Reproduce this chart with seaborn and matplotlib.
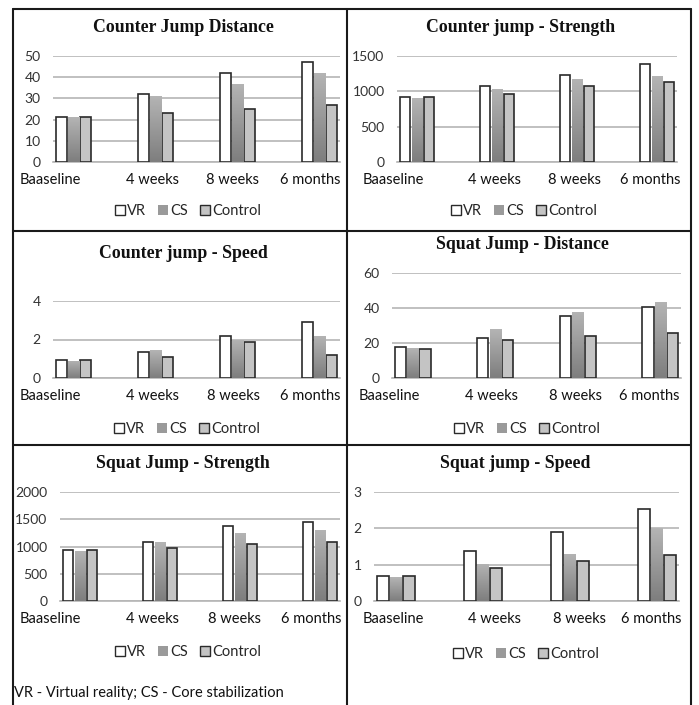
import numpy as np
import pandas as pd
import matplotlib
matplotlib.use("Agg")
import matplotlib.pyplot as plt
import seaborn as sns
from matplotlib.patches import Patch
from matplotlib.lines import Line2D
from matplotlib.colors import LinearSegmentedColormap
import matplotlib.transforms as mtransforms

# ---------------- data ----------------
timepoints = ["Baaseline", "4 weeks", "8 weeks", "6 months"]
groups = ["VR", "CS", "Control"]

titles = ["Counter Jump Distance", "Counter jump - Strength", "Counter jump - Speed",
          "Squat Jump - Distance", "Squat Jump - Strength", "Squat jump - Speed"]

cj_distance_vr = [21, 32, 42, 47]
cj_distance_cs = [21, 31, 37, 42]
cj_distance_ctrl = [21, 23, 25, 27]

cj_strength_vr = [920, 1070, 1230, 1390]
cj_strength_cs = [900, 1040, 1180, 1210]
cj_strength_ctrl = [920, 960, 1080, 1130]

cj_speed_vr = [0.95, 1.35, 2.2, 2.9]
cj_speed_cs = [0.9, 1.45, 2.0, 2.2]
cj_speed_ctrl = [0.95, 1.1, 1.85, 1.2]

sj_distance_vr = [17.5, 23, 35.5, 40.5]
sj_distance_cs = [17, 28, 38, 43.5]
sj_distance_ctrl = [16.5, 21.5, 24, 26]

sj_strength_vr = [930, 1090, 1370, 1450]
sj_strength_cs = [920, 1080, 1250, 1310]
sj_strength_ctrl = [930, 970, 1050, 1090]

sj_speed_vr = [0.7, 1.37, 1.9, 2.52]
sj_speed_cs = [0.65, 1.03, 1.3, 2.0]
sj_speed_ctrl = [0.68, 0.9, 1.1, 1.27]

yticks_list = [[0, 10, 20, 30, 40, 50], [0, 500, 1000, 1500], [0, 2, 4],
               [0, 20, 40, 60], [0, 500, 1000, 1500, 2000], [0, 1, 2, 3]]

footnote = "VR - Virtual reality; CS - Core stabilization"

series = [
    (cj_distance_vr, cj_distance_cs, cj_distance_ctrl),
    (cj_strength_vr, cj_strength_cs, cj_strength_ctrl),
    (cj_speed_vr, cj_speed_cs, cj_speed_ctrl),
    (sj_distance_vr, sj_distance_cs, sj_distance_ctrl),
    (sj_strength_vr, sj_strength_cs, sj_strength_ctrl),
    (sj_speed_vr, sj_speed_cs, sj_speed_ctrl),
]

# ---------------- layout (pixels) ----------------
W, H = 699, 705
# (left, right, top, bottom) of axes, title center (x, y), legend center (x, y)
layout = [
    ((53, 340, 56, 162), (183, 27), (188, 211)),
    ((397, 677, 56, 162), (521, 27), (524, 211)),
    ((53, 340, 301, 378), (183, 253), (187, 429)),
    ((392, 681, 273, 378), (522, 245), (527, 429)),
    ((60, 340, 492, 601), (183, 464), (188, 652)),
    ((374, 679, 492, 601), (515, 464), (526, 654)),
]
label_offsets_px = [
    [-23, -3, -5, -9],
    [-24, -2, -3, -7],
    [-23, -3, -4, -9],
    [-23, -4, -2, -11],
    [-30, -8, -6, -9],
    [-2, 12, 9, -6],
]

sns.set_style("white")
plt.rcParams["font.family"] = ["Lato", "DejaVu Sans"]

fig = plt.figure(figsize=(W / 100, H / 100), dpi=100)
fig.patch.set_facecolor("white")

palette = {"VR": "#ffffff", "CS": "#9a9a9a", "Control": "#c4c4c4"}
cs_cmap = LinearSegmentedColormap.from_list("csgrad", ["#7e7e7e", "#b4b4b4"])
edge = "#2a2a2a"
grid_c = "#b5b5b5"

for i in range(6):
    (l, r, t, b), (tx, ty), (lx, ly) = layout[i]
    ax = fig.add_axes([l / W, 1 - b / H, (r - l) / W, (b - t) / H])
    vr, cs, ctrl = series[i]
    df = pd.DataFrame({
        "time": timepoints * 3,
        "group": ["VR"] * 4 + ["CS"] * 4 + ["Control"] * 4,
        "value": list(vr) + list(cs) + list(ctrl),
    })
    sns.barplot(data=df, x="time", y="value", hue="group", order=timepoints,
                hue_order=groups, palette=palette, saturation=1, width=0.45,
                gap=0.1, errorbar=None, legend=False, ax=ax, zorder=3)
    for bar in ax.containers[0]:
        bar.set_edgecolor(edge); bar.set_linewidth(1.2)
    for bar in ax.containers[2]:
        bar.set_edgecolor(edge); bar.set_linewidth(1.2)
    for bar in ax.containers[1]:
        bar.set_edgecolor("none")
        x0, y0, w, h = bar.get_x(), bar.get_y(), bar.get_width(), bar.get_height()
        grad = np.linspace(0, 1, 64).reshape(-1, 1)
        im = ax.imshow(grad, extent=[x0, x0 + w, y0, y0 + h], cmap=cs_cmap,
                       aspect="auto", origin="lower", zorder=3.5, vmin=0, vmax=1)
        im.set_clip_path(bar)
    yt = yticks_list[i]
    ax.set_ylim(0, yt[-1])
    ax.set_xlim(-0.25, 3.25)
    ax.set_yticks(yt)
    ax.set_yticklabels([str(v) for v in yt])
    ax.set_xlabel(""); ax.set_ylabel("")
    ax.yaxis.grid(True, color=grid_c, linewidth=1.2, zorder=0)
    ax.set_axisbelow(True)
    for s in ["top", "right", "left"]:
        ax.spines[s].set_visible(False)
    ax.spines["bottom"].set_color(grid_c)
    ax.spines["bottom"].set_linewidth(1.2)
    ax.tick_params(axis="y", length=0, labelsize=10, pad=9, labelcolor="#333333")
    ax.tick_params(axis="x", length=0, labelsize=10.5, pad=8, labelcolor="#111111")
    for lab, off in zip(ax.get_xticklabels(), label_offsets_px[i]):
        lab.set_transform(lab.get_transform() +
                          mtransforms.ScaledTranslation(off / 100, 0, fig.dpi_scale_trans))
    ax.patch.set_alpha(0)

    fig.text(tx / W, 1 - ty / H, titles[i], ha="center", va="center",
             fontsize=12.8, fontweight="bold", family=["Liberation Serif"], color="#111111")

    handles = [Patch(facecolor="#ffffff", edgecolor=edge, linewidth=1.0),
               Patch(facecolor="#9a9a9a", edgecolor="none"),
               Patch(facecolor="#c4c4c4", edgecolor=edge, linewidth=1.0)]
    fig.legend(handles, groups, loc="center", bbox_to_anchor=(lx / W, 1 - ly / H),
               ncol=3, frameon=False, fontsize=10.5, handlelength=0.7,
               handleheight=0.7, handletextpad=0.15, columnspacing=0.8,
               borderaxespad=0, borderpad=0)

fig.text(14 / W, 1 - 693 / H, footnote, ha="left", va="center", fontsize=10.5,
         color="#111111")

# table borders
bc = "#1a1a1a"
def hline(y, x0, x1):
    fig.add_artist(Line2D([x0 / W, x1 / W], [1 - y / H, 1 - y / H], color=bc, lw=1.5))
def vline(x, y0, y1):
    fig.add_artist(Line2D([x / W, x / W], [1 - y0 / H, 1 - y1 / H], color=bc, lw=1.5))

hline(9, 13, 691)
hline(231, 13, 691)
hline(445, 13, 691)
vline(13, 9, 705)
vline(691, 9, 705)
vline(347, 9, 705)

fig.savefig("out.png", dpi=100, facecolor="white")
